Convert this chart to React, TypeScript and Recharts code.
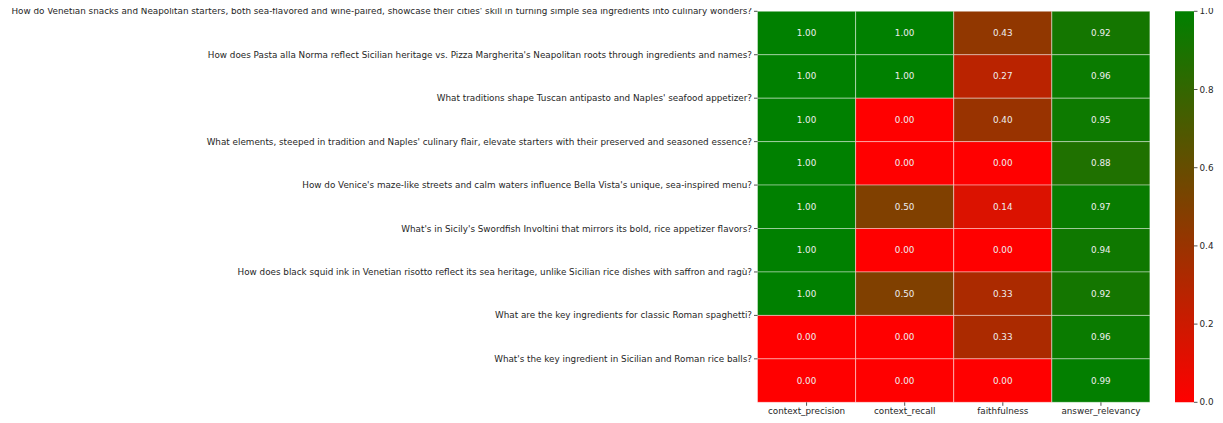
import React from 'react';
import { BarChart, Bar, XAxis, YAxis, Cell } from 'recharts';

const questions: string[] = [
  "How do Venetian snacks and Neapolitan starters, both sea-flavored and wine-paired, showcase their cities' skill in turning simple sea ingredients into culinary wonders?",
  "How does Pasta alla Norma reflect Sicilian heritage vs. Pizza Margherita's Neapolitan roots through ingredients and names?",
  "What traditions shape Tuscan antipasto and Naples' seafood appetizer?",
  "What elements, steeped in tradition and Naples' culinary flair, elevate starters with their preserved and seasoned essence?",
  "How do Venice's maze-like streets and calm waters influence Bella Vista's unique, sea-inspired menu?",
  "What's in Sicily's Swordfish Involtini that mirrors its bold, rice appetizer flavors?",
  "How does black squid ink in Venetian risotto reflect its sea heritage, unlike Sicilian rice dishes with saffron and ragù?",
  "What are the key ingredients for classic Roman spaghetti?",
  "What's the key ingredient in Sicilian and Roman rice balls?",
];

const metrics: string[] = ['context_precision', 'context_recall', 'faithfulness', 'answer_relevancy'];

const contextPrecision: number[] = [1.0, 1.0, 1.0, 1.0, 1.0, 1.0, 1.0, 0.0, 0.0];
const contextRecall: number[] = [1.0, 1.0, 0.0, 0.0, 0.5, 0.0, 0.5, 0.0, 0.0];
const faithfulness: number[] = [0.43, 0.27, 0.4, 0.0, 0.14, 0.0, 0.33, 0.33, 0.0];
const answerRelevancy: number[] = [0.92, 0.96, 0.95, 0.88, 0.97, 0.94, 0.92, 0.96, 0.99];

const scores: number[][] = [contextPrecision, contextRecall, faithfulness, answerRelevancy];

const colorbarTicks: number[] = [0, 0.2, 0.4, 0.6, 0.8, 1.0];

const rowIdx = questions.map((_, i) => i);

const table = metrics.map((m, c) => {
  const o: any = { metric: m };
  rowIdx.forEach((r) => {
    o[`r${r}`] = 1;
    o[`s${r}`] = scores[c][r];
  });
  return o;
});

function cmap(t: number): string {
  const r = Math.round(255 * (1 - t));
  const g = Math.round(128 * t);
  return `rgb(${r},${g},0)`;
}

const FONT = 'DejaVu Sans, sans-serif';
const FS = 8.8;
const TXT = '#262626';

const QuestionTick = (p: any) => (
  <text
    x={p.x}
    y={p.y}
    textAnchor="end"
    dominantBaseline="central"
    fontSize={FS}
    fontFamily={FONT}
    fill={TXT}
  >
    {questions[p.payload.value] ?? ''}
  </text>
);

export default function App() {
  return (
    <div style={{ position: 'relative', width: 1207, height: 415, fontFamily: FONT }}>
      <div style={{ position: 'absolute', left: 0, top: -8 }}>
        <BarChart
          width={1160}
          height={423}
          data={table}
          margin={{ top: 11.3, right: 18, bottom: 0, left: 0 }}
          barCategoryGap={0}
          barGap={0}
        >
          <XAxis
            dataKey="metric"
            type="category"
            axisLine={false}
            tickSize={3.5}
            height={20.7}
            tick={{ fontSize: FS, fill: TXT, fontFamily: FONT }}
            tickLine={{ stroke: TXT, strokeWidth: 0.8 }}
          />
          <YAxis
            type="number"
            domain={[0, 9]}
            reversed
            ticks={rowIdx}
            interval={0}
            width={749.5}
            axisLine={false}
            tickSize={3.5}
            tick={<QuestionTick />}
            tickLine={{ stroke: TXT, strokeWidth: 0.8 }}
          />
          {rowIdx.map((r) => (
            <Bar
              key={r}
              dataKey={`r${r}`}
              stackId="a"
              isAnimationActive={false}
              label={(p: any) => (
                <text
                  x={p.x + p.width / 2}
                  y={p.y + p.height / 2}
                  textAnchor="middle"
                  dominantBaseline="central"
                  fontSize={FS}
                  fontFamily={FONT}
                  fill="#eeeeee"
                >
                  {scores[p.index][r].toFixed(2)}
                </text>
              )}
            >
              {table.map((row, c) => (
                <Cell key={c} fill={cmap(row[`s${r}`])} stroke="#ffffff" strokeWidth={0.5} strokeOpacity={0.8} />
              ))}
            </Bar>
          ))}
        </BarChart>
      </div>
      <div style={{ position: 'absolute', left: 1167, top: -8 }}>
        <BarChart
          width={48}
          height={423}
          data={[{ v: 1 }]}
          margin={{ top: 11.3, right: 0, bottom: 20.7, left: 0 }}
          barCategoryGap={0}
        >
          <defs>
            <linearGradient id="cbar" x1="0" y1="0" x2="0" y2="1">
              <stop offset="0%" stopColor="rgb(0,128,0)" />
              <stop offset="50%" stopColor="rgb(128,64,0)" />
              <stop offset="100%" stopColor="rgb(255,0,0)" />
            </linearGradient>
          </defs>
          <XAxis hide dataKey="v" />
          <YAxis
            orientation="right"
            type="number"
            domain={[0, 1]}
            ticks={colorbarTicks}
            interval={0}
            width={29}
            axisLine={false}
            tickSize={3.5}
            tickFormatter={(v: number) => v.toFixed(1)}
            tick={{ fontSize: FS, fill: TXT, fontFamily: FONT }}
            tickLine={{ stroke: TXT, strokeWidth: 0.8 }}
          />
          <Bar dataKey="v" fill="url(#cbar)" isAnimationActive={false} />
        </BarChart>
      </div>
    </div>
  );
}
